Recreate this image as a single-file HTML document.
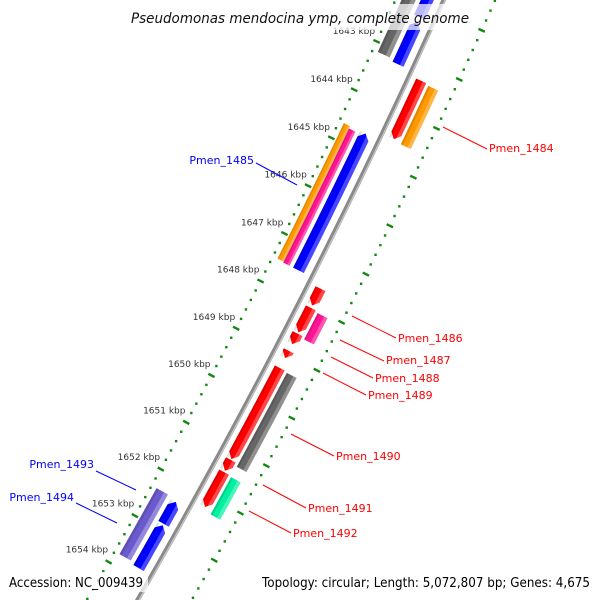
<!DOCTYPE html>
<html><head><meta charset="utf-8"><style>html,body{margin:0;padding:0;background:#fff;width:600px;height:600px;overflow:hidden}svg{display:block}</style></head>
<body>
<svg id="map" width="600" height="600" viewBox="0 0 600 600" xmlns="http://www.w3.org/2000/svg">
<rect width="600" height="600" fill="#fff"/>
<g id="ticks"></g>
<g id="back"></g>
<g id="genes"></g>
<g id="labels"></g>
<rect x="125" y="4" width="350" height="26" fill="#fff" opacity="0.72"/>
<text x="300" y="23" text-anchor="middle" font-family="DejaVu Sans, Liberation Sans, sans-serif" font-style="italic" font-size="14" textLength="338" lengthAdjust="spacingAndGlyphs" fill="#111">Pseudomonas mendocina ymp, complete genome</text>
<rect x="5" y="572" width="143" height="20" fill="#fff" opacity="0.72"/>
<rect x="258" y="572" width="336" height="20" fill="#fff" opacity="0.72"/>
<text x="9" y="587" font-family="DejaVu Sans, Liberation Sans, sans-serif" font-size="13" textLength="134" lengthAdjust="spacingAndGlyphs" fill="#000">Accession: NC_009439</text>
<text x="590" y="587" text-anchor="end" font-family="DejaVu Sans, Liberation Sans, sans-serif" font-size="13" textLength="328" lengthAdjust="spacingAndGlyphs" fill="#000">Topology: circular; Length: 5,072,807 bp; Genes: 4,675</text>
</svg>
<script>
// data
const geneStart = [1641.0,1642.35,1640.9,1644.65,1644.7,1644.65,1643.32,1643.35,1647.62,1648.02,1648.56,1648.05,1648.92,1649.28,1651.22,1649.3,1651.48,1651.5,1652.35,1652.4,1652.9,1654.3];
const geneEnd   = [1642.25,1643.22,1643.17,1647.48,1647.5,1647.5,1644.52,1644.55,1647.97,1648.53,1648.78,1648.6,1649.07,1651.2,1651.45,1651.28,1652.22,1652.29,1653.77,1652.87,1653.82,1656.0];
const geneStrand= [0,-1,0,0,0,-1,1,0,1,1,1,0,1,1,1,0,1,0,0,-1,-1,0];
const geneSlot  = ['i1','i1','i2','i2a','i2b','i1','o1','o2','o1','o1','o1','o2','o1','o1','o1','o2','o1','o2','i2','i1','i1','o1'];
const geneColor = ['#0000ff','#0000ff','#666666','#ff9900','#ff1493','#0000ff','#ff0000','#ff9900','#ff0000','#ff0000','#ff0000','#ff1493','#ff0000','#ff0000','#ff0000','#666666','#ff0000','#00f0a0','#6a5acd','#0000ff','#0000ff','#ff0000'];
const tickLabels = [1643,1644,1645,1646,1647,1648,1649,1650,1651,1652,1653,1654];
const labelNames = ['Pmen_1484','Pmen_1485','Pmen_1486','Pmen_1487','Pmen_1488','Pmen_1489','Pmen_1490','Pmen_1491','Pmen_1492','Pmen_1493','Pmen_1494'];
const labelColors = ['#ff0000','#0000ff','#ff0000','#ff0000','#ff0000','#ff0000','#ff0000','#ff0000','#ff0000','#0000ff','#0000ff'];
const labelX = [489,254,398,386,375,368,336,308,293,94,74];
const labelY = [148,160,338,360,378,395,456,508,533,464,497];
const lineFrom = [[443,127],[256,163],[352,316],[340,340],[331,357],[323,373],[291,434],[263,485],[249,511],[96,471],[76,503]];
const lineTo   = [[487,149],[297,185],[396,338],[384,361],[373,378],[366,395],[334,456],[306,508],[291,533],[136,490],[117,523]];

const NS='http://www.w3.org/2000/svg';
const CX=-5625, CY=-2719, R0=6650, A0=24.70, DA=0.4618;
const slotD={o1:[13,11],o2:[27,11],i1:[-15,12],i2:[-32,13],i2a:[-35.5,7],i2b:[-28.5,7]};
function P(k,d){const a=(A0+(k-1643)*DA)*Math.PI/180;const r=R0+d;return [CX+r*Math.cos(a),CY+r*Math.sin(a)];}
function mk(tag,attrs,parent){const e=document.createElementNS(NS,tag);for(const k in attrs)e.setAttribute(k,attrs[k]);parent.appendChild(e);return e;}
function pts(a){return a.map(p=>p[0].toFixed(2)+','+p[1].toFixed(2)).join(' ');}

// ticks
const tg=document.getElementById('ticks');
[-44,47].forEach(function(d,ri){
  for(let i=0;i<=90;i++){
    const k=1639+i*0.2;
    const major=Math.abs(k-Math.round(k))<0.01;
    if(major){const a=P(k,d-3.5),b=P(k,d+3.5);
      const ln=mk('line',{x1:a[0],y1:a[1],x2:b[0],y2:b[1],stroke:'#118811','stroke-width':2.4},tg);
      
      
    } else {const c=P(k,d);
      const r=mk('rect',{x:c[0]-1.2,y:c[1]-1.2,width:2.4,height:2.4,fill:'#118811'},tg);
      
      
    }
  }
});
tickLabels.forEach(function(k){const c=P(k,-69);
  const t=mk('text',{x:c[0],y:c[1]+3,'text-anchor':'middle','font-family':'DejaVu Sans, Liberation Sans, sans-serif','font-size':'9',fill:'#333'},tg);
  t.textContent=k+' kbp';
  
  
});

// backbone
const bg=document.getElementById('back');
function arcPath(d,k1,k2){let s='';for(let k=k1;k<=k2+1e-9;k+=0.5){const p=P(k,d);s+=(s?'L':'M')+p[0].toFixed(2)+' '+p[1].toFixed(2);}return s;}
let bb=mk('path',{d:arcPath(0,1638,1658),stroke:'#8a8a8a','stroke-width':4.5,fill:'none'},bg);


let bh=mk('path',{d:arcPath(1.3,1638,1658),stroke:'#c8c8c8','stroke-width':1.2,fill:'none'},bg);



// genes
const gg=document.getElementById('genes');
function genePoly(k1,k2,d,w,strand){
  const al=0.11, N=12, inner=d-w/2, outer=d+w/2;
  let s=k1,e=k2;
  if(strand===1) e=Math.max(k1,k2-al);
  if(strand===-1) s=Math.min(k2,k1+al);
  const a=[];
  for(let i=0;i<=N;i++)a.push(P(s+(e-s)*i/N,outer));
  if(strand===1)a.push(P(k2,d));
  for(let i=N;i>=0;i--)a.push(P(s+(e-s)*i/N,inner));
  if(strand===-1)a.push(P(k1,d));
  return a;
}
for(let i=0;i<geneStart.length;i++){
  const sd=slotD[geneSlot[i]];const d=sd[0],w=sd[1];
  const poly=mk('polygon',{points:pts(genePoly(geneStart[i],geneEnd[i],d,w,geneStrand[i])),fill:geneColor[i]},gg);
  
  
  const hl=mk('polygon',{points:pts(genePoly(geneStart[i],geneEnd[i],d+w/2-w*0.17,w*0.34,0)),fill:'#fff',opacity:0.28},gg);
  
  
  const sh=mk('polygon',{points:pts(genePoly(geneStart[i],geneEnd[i],d-w/2+w*0.1,w*0.2,0)),fill:'#000',opacity:0.12},gg);
  
  
}

// labels
const lg=document.getElementById('labels');
for(let i=0;i<labelNames.length;i++){
  const ln=mk('line',{x1:lineFrom[i][0],y1:lineFrom[i][1],x2:lineTo[i][0],y2:lineTo[i][1],stroke:labelColors[i],'stroke-width':1},lg);
  
  
  const left=labelColors[i]==='#0000ff';
  const t=mk('text',{x:labelX[i],y:labelY[i]+4,'text-anchor':left?'end':'start','font-family':'DejaVu Sans, Liberation Sans, sans-serif','font-size':'11',fill:labelColors[i]},lg);
  t.textContent=labelNames[i];
  
  
}
</script>
</body></html>
